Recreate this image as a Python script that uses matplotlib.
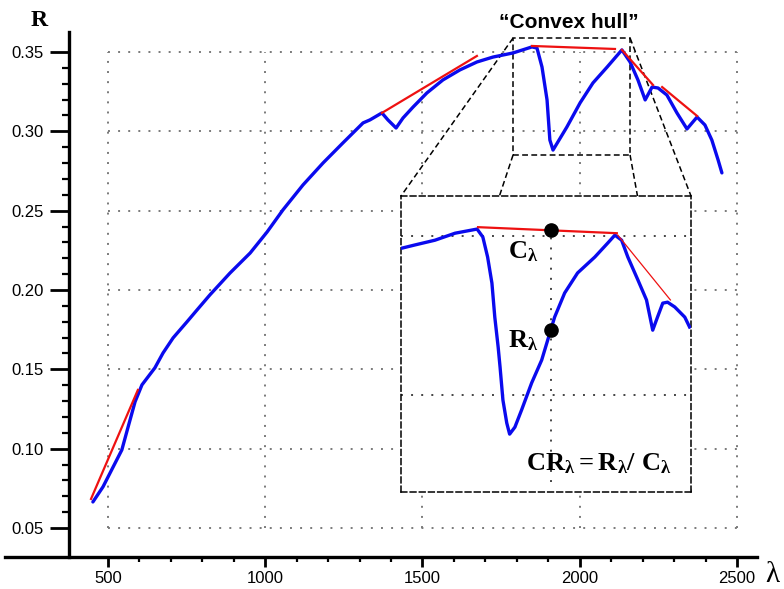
import numpy as np
import matplotlib
matplotlib.use("Agg")
import matplotlib.pyplot as plt
from matplotlib.patches import Rectangle
from matplotlib.ticker import FixedLocator

plt.rcParams["font.family"] = ["Liberation Sans", "DejaVu Sans"]
plt.rcParams["mathtext.fontset"] = "custom"
plt.rcParams["mathtext.rm"] = "Liberation Serif:bold"
plt.rcParams["mathtext.it"] = "Liberation Serif:bold"
plt.rcParams["mathtext.bf"] = "Liberation Serif:bold"

# ---- reflectance spectrum (wavelength in nm, reflectance) ----
wavelength = [452, 484, 544, 564, 586, 608, 649, 675, 707, 751, 783, 824, 888,
              952, 1006, 1056, 1120, 1184, 1247, 1311, 1333, 1371, 1390, 1416,
              1438, 1470, 1514, 1565, 1619, 1673, 1724, 1788, 1848, 1864, 1880,
              1896, 1905, 1915, 1959, 2001, 2042, 2087, 2134, 2160, 2185, 2208,
              2230, 2249, 2277, 2309, 2341, 2373, 2398, 2420, 2440, 2452]
reflectance = [0.0664, 0.0759, 0.0992, 0.1137, 0.1295, 0.1402, 0.1509, 0.1603,
               0.1698, 0.1799, 0.1874, 0.1969, 0.2107, 0.2233, 0.2366, 0.2504,
               0.2662, 0.2801, 0.2927, 0.3053, 0.3072, 0.3116, 0.3072, 0.3021,
               0.3084, 0.3153, 0.3242, 0.3324, 0.3387, 0.3437, 0.3468, 0.3494,
               0.3532, 0.3525, 0.3405, 0.3198, 0.2945, 0.2882, 0.3027, 0.3179,
               0.3305, 0.3405, 0.3513, 0.3437, 0.3324, 0.3198, 0.3279, 0.3273,
               0.3229, 0.3116, 0.3015, 0.3090, 0.3040, 0.2945, 0.2819, 0.2738]

# convex hull segments: [start, end]
hull_wavelength = [[446, 595], [1371, 1673], [1848, 2112], [2134, 2233], [2262, 2373]]
hull_reflectance = [[0.0683, 0.1370], [0.3116, 0.3475], [0.3538, 0.3519],
                    [0.3513, 0.3292], [0.3279, 0.3097]]

# window that is magnified in the inset
zoom_wl = (1788, 2160)
zoom_r = (0.2851, 0.3588)

# ---- magnified absorption feature ----
zoom_wavelength = [1689, 1716, 1758, 1800, 1846, 1858, 1868, 1877, 1883, 1890,
                   1894, 1900, 1908, 1914, 1925, 1939, 1960, 1981, 1998, 2008,
                   2029, 2056, 2092, 2119, 2134, 2148, 2161, 2182, 2200, 2213,
                   2223, 2234, 2244, 2259, 2280, 2290]
zoom_reflectance = [0.3462, 0.3472, 0.3487, 0.3509, 0.3522, 0.3497, 0.3434,
                    0.3352, 0.3245, 0.3151, 0.3088, 0.2984, 0.2912, 0.2877,
                    0.2899, 0.2953, 0.3038, 0.3110, 0.3195, 0.3245, 0.3321,
                    0.3384, 0.3434, 0.3478, 0.3503, 0.3487, 0.3434, 0.3362,
                    0.3299, 0.3204, 0.3245, 0.3289, 0.3292, 0.3277, 0.3245,
                    0.3214]
zoom_hull_wavelength = [[1848, 2138], [2140, 2250]]
zoom_hull_reflectance = [[0.3528, 0.3509], [0.3503, 0.3299]]
sample_wavelength = 2000

x_major = [500, 1000, 1500, 2000, 2500]
x_minor = [w for w in range(600, 2500, 100) if w % 500]
y_major = [0.05, 0.10, 0.15, 0.20, 0.25, 0.30, 0.35]
y_minor = [round(0.05 + 0.01 * i, 2) for i in range(1, 30) if i % 5]

W, H = 784, 589
BLUE = "#0a0aee"
RED = "#ee1111"
GRID = dict(colors="#7a7a7a", linestyles=(0, (1, 4.2)), linewidths=1.4)
DASH = (0, (3.8, 2.2))

fig = plt.figure(figsize=(W / 100, H / 100), dpi=100)
ax = fig.add_axes([5 / W, (H - 557) / H, 752 / W, 525 / H])
ax.set_xlim(172.5, 2563.6)
ax.set_ylim(0.0317, 0.3626)

for s in ("top", "right"):
    ax.spines[s].set_visible(False)
ax.spines["left"].set_position(("data", 376))
ax.spines["left"].set_linewidth(2.4)
ax.spines["bottom"].set_linewidth(2.4)

ax.xaxis.set_major_locator(FixedLocator(x_major))
ax.xaxis.set_minor_locator(FixedLocator(x_minor))
ax.yaxis.set_major_locator(FixedLocator(y_major))
ax.yaxis.set_minor_locator(FixedLocator(y_minor))
ax.set_xticklabels([str(v) for v in x_major])
ax.set_yticklabels([f"{v:.2f}" for v in y_major])
ax.tick_params(axis="x", which="major", length=7, width=2, pad=3, labelsize=12)
ax.tick_params(axis="x", which="minor", length=3.5, width=1.6)
ax.tick_params(axis="y", which="major", length=13.5, width=2, pad=5, labelsize=12)
ax.tick_params(axis="y", which="minor", length=5, width=1.6)

# dotted grid bounded by the labelled ticks
ax.hlines(y_major, x_major[0], x_major[-1], zorder=1, **GRID)
ax.vlines(x_major, y_major[0], y_major[-1], zorder=1, **GRID)

# spectrum and its convex hull
ax.plot(wavelength, reflectance, color=BLUE, lw=2.4, zorder=3,
        solid_joinstyle="round", solid_capstyle="round")
for hw, hr in zip(hull_wavelength, hull_reflectance):
    ax.plot(hw, hr, color=RED, lw=1.6, zorder=4)

# magnified window and the inset
ax.add_patch(Rectangle((zoom_wl[0], zoom_r[0]), zoom_wl[1] - zoom_wl[0],
                       zoom_r[1] - zoom_r[0], fill=False, ec="black",
                       lw=1.1, ls=DASH, zorder=2))

ins_box = [401 / W, (H - 492) / H, 290 / W, 296 / H]
axins = fig.add_axes(ins_box)
axins.set_facecolor("white")
axins.set_xlim(1687, 2293)
axins.set_ylim(0.2695, 0.3626)
axins.set_xticks([])
axins.set_yticks([])
for sp in axins.spines.values():
    sp.set_linestyle(DASH)
    sp.set_linewidth(1.1)

# connector lines from the window corners to the inset corners
inv = ax.transData.inverted()
def fig_to_data(fx, fy):
    return inv.transform(fig.transFigure.transform((fx, fy)))
l, b, w, h = ins_box
pairs = [((zoom_wl[0], zoom_r[1]), fig_to_data(l, b + h)),
         ((zoom_wl[0], zoom_r[0]), fig_to_data(l, b)),
         ((zoom_wl[1], zoom_r[1]), fig_to_data(l + w, b + h)),
         ((zoom_wl[1], zoom_r[0]), fig_to_data(l + w, b))]
for p, q in pairs:
    ax.plot([p[0], q[0]], [p[1], q[1]], color="black", lw=1.1, ls=DASH, zorder=2)

igrid = dict(colors="#444444", linestyles=(0, (1, 4.2)), linewidths=1.4)
axins.hlines([0.30, 0.35], 1687, 2293, zorder=1, **igrid)
axins.vlines([sample_wavelength], 0.2725, 0.35, zorder=1, **igrid)
axins.plot(zoom_wavelength, zoom_reflectance, color=BLUE, lw=2.4, zorder=3,
           solid_joinstyle="round")
axins.plot(zoom_hull_wavelength[0], zoom_hull_reflectance[0], color=RED, lw=1.6, zorder=4)
axins.plot(zoom_hull_wavelength[1], zoom_hull_reflectance[1], color=RED, lw=0.9, zorder=4)

c_val = np.interp(sample_wavelength, zoom_hull_wavelength[0], zoom_hull_reflectance[0])
r_val = np.interp(sample_wavelength, zoom_wavelength, zoom_reflectance)
axins.plot([sample_wavelength, sample_wavelength], [c_val, r_val], "o",
           color="black", ms=9.5, zorder=5)

axins.text(1975, 0.3452, r"$\mathrm{C}_{\lambda}$", ha="right", va="center", fontsize=19)
axins.text(1975, 0.3170, r"$\mathrm{R}_{\lambda}$", ha="right", va="center", fontsize=19)
axins.text(1948, 0.2785, r"$\mathrm{CR}_{\lambda}\mathrm{=R}_{\lambda}\mathrm{/\ C}_{\lambda}$",
           ha="left", va="center", fontsize=19)

# axis titles and annotation
fig.text(39 / W, 1 - 20 / H, "R", ha="center", va="center", fontsize=17,
         family="Liberation Serif", weight="bold")
fig.text(772 / W, 1 - 575 / H, "λ", ha="center", va="center", fontsize=21,
         family="Liberation Serif")
fig.text(569 / W, 1 - 22 / H, "\u201cConvex hull\u201d", ha="center", va="center",
         fontsize=15, weight="bold")

fig.savefig("out.png", dpi=100)
